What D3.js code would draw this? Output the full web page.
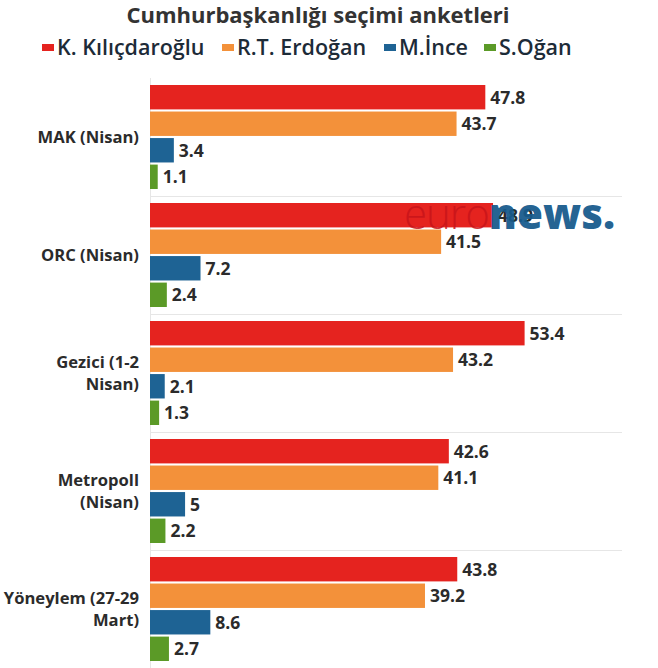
<!DOCTYPE html>
<html><head><meta charset="utf-8">
<script src="https://cdn.jsdelivr.net/npm/d3@7"></script>
<style>body{margin:0;background:#fff}svg{display:block;font-family:"Open Sans",sans-serif}</style>
</head><body><svg id="c" width="658" height="668"></svg>
<script>
const categories = ["MAK (Nisan)", "ORC (Nisan)", "Gezici (1-2 Nisan)", "Metropoll (Nisan)", "Yöneylem (27-29 Mart)"];
const categoryLines = [["MAK (Nisan)"], ["ORC (Nisan)"], ["Gezici (1-2", "Nisan)"], ["Metropoll", "(Nisan)"], ["Yöneylem (27-29", "Mart)"]];
const seriesNames = ["K. Kılıçdaroğlu", "R.T. Erdoğan", "M.İnce", "S.Oğan"];
const seriesColors = ["#e5231f", "#f3913a", "#1e6394", "#5b9a27"];
const kilicdaroglu = [47.8, 48.9, 53.4, 42.6, 43.8];
const erdogan = [43.7, 41.5, 43.2, 41.1, 39.2];
const ince = [3.4, 7.2, 2.1, 5, 8.6];
const ogan = [1.1, 2.4, 1.3, 2.2, 2.7];
const series = [kilicdaroglu, erdogan, ince, ogan];

const svg = d3.select("#c");
const y = d3.scaleBand().domain(categories).range([78, 668]);
const yi = d3.scaleBand().domain(seriesNames).range([7, 111]).paddingInner(0.08);
const x = d3.scaleLinear().domain([0, 67]).range([150, 620]);

// title
svg.append("text").attr("x", 318).attr("y", 23).attr("text-anchor", "middle")
  .attr("font-size", 22).attr("font-weight", 700).attr("fill", "#333")
  .text("Cumhurbaşkanlığı seçimi anketleri");

// legend
const legX = [42, 222, 384, 484];
seriesNames.forEach((s, i) => {
  const g = svg.append("g").attr("transform", `translate(${legX[i]},47)`);
  g.append("rect").attr("x", 0).attr("y", -3).attr("width", 12).attr("height", 7).attr("fill", seriesColors[i]);
  g.append("text").attr("x", 15).attr("y", 8).attr("font-size", 21.5).attr("font-weight", 600)
    .attr("fill", "#1d2b38").text(s);
});

// separators
categories.slice(1).forEach(c => {
  svg.append("line").attr("x1", 150).attr("x2", 622).attr("y1", y(c) + 0.5).attr("y2", y(c) + 0.5)
    .attr("stroke", "#e6e6e6");
});
svg.append("line").attr("x1", 150.5).attr("x2", 150.5).attr("y1", 78).attr("y2", 668).attr("stroke", "#e6e6e6");

// bars
categories.forEach((c, ci) => {
  series.forEach((vals, si) => {
    const by = y(c) + yi(seriesNames[si]);
    svg.append("rect").attr("x", x(0)).attr("y", by).attr("width", x(vals[ci]) - x(0))
      .attr("height", yi.bandwidth()).attr("fill", seriesColors[si]);
    svg.append("text").attr("x", x(vals[ci]) + 5).attr("y", by + yi.bandwidth() / 2 + 6.5)
      .attr("font-size", 17.5).attr("font-weight", 700).attr("fill", "#2b2b2b").text(vals[ci]);
  });
  const lines = categoryLines[ci];
  const cy = y(c) + y.bandwidth() / 2;
  lines.forEach((l, li) => {
    svg.append("text").attr("x", 139).attr("y", cy + 6 + (li - (lines.length - 1) / 2) * 22)
      .attr("text-anchor", "end").attr("font-size", 16.6).attr("font-weight", 700).attr("fill", "#2b2b2b").text(l);
  });
});

// watermark
const wm = svg.append("text").attr("x", 404).attr("y", 229).attr("font-size", 42);
wm.append("tspan").attr("font-weight", 300).attr("fill", "#c8141a").attr("fill-opacity", 0.85).attr("letter-spacing", -1).text("euro");
wm.append("tspan").attr("font-weight", 800).attr("fill", "#175a8c").attr("fill-opacity", 0.95).attr("letter-spacing", 0).text("news.");
</script></body></html>
